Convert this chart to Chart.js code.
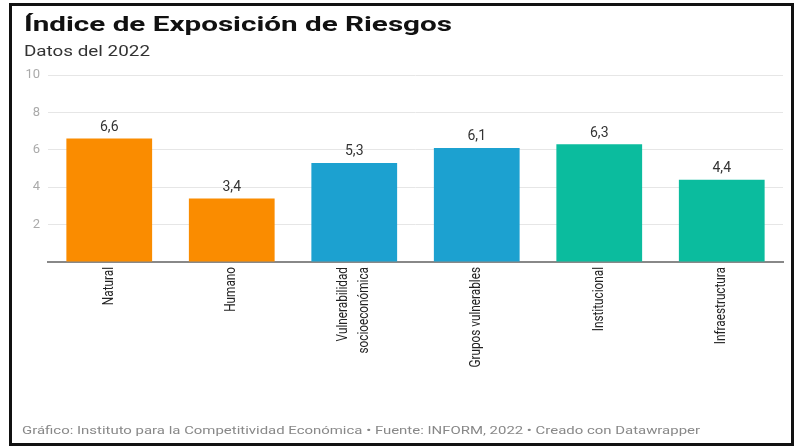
<!DOCTYPE html>
<html lang="es">
<head>
<meta charset="utf-8">
<script src="https://cdn.jsdelivr.net/npm/chart.js@4"></script>
<style>
  html, body { margin: 0; padding: 0; background: #fff; }
  body { width: 795px; height: 447px; position: relative; overflow: hidden; font-family: Roboto, sans-serif; }
  .frame { position: absolute; left: 9px; top: 3px; width: 779px; height: 437px; border: 3px solid #111; z-index: 2; pointer-events: none; }
  #chart { position: absolute; left: 0; top: 0; }
  .txt { position: absolute; white-space: nowrap; transform-origin: 0 0; z-index: 3; line-height: 1; }
  .title { left: 24px; top: 14px; font-size: 21px; font-weight: 700; color: #111; }
  .subtitle { left: 24px; top: 44px; font-size: 14px; color: #333; }
  .footer { left: 22px; top: 425px; font-size: 11.5px; color: #888; }
</style>
</head>
<body>
<div class="frame"></div>
<div class="txt title" data-w="428">Índice de Exposición de Riesgos</div>
<div class="txt subtitle" data-w="126">Datos del 2022</div>
<div class="txt footer" data-w="678">Gráfico: Instituto para la Competitividad Económica • Fuente: INFORM, 2022 • Creado con Datawrapper</div>
<canvas id="chart" width="795" height="447"></canvas>
<script>
// Datos
const categorias = ['Natural', 'Humano', ['Vulnerabilidad', 'socioeconómica'], 'Grupos vulnerables', 'Institucional', 'Infraestructura'];
const valores = [6.6, 3.4, 5.3, 6.1, 6.3, 4.4];
const colores = ['#fa8c00', '#fa8c00', '#1ca1d0', '#1ca1d0', '#0bbc9e', '#0bbc9e'];
const ticksY = [0, 2, 4, 6, 8, 10];

// La imagen original está estirada en horizontal: se ajusta el ancho de los textos
document.querySelectorAll('.txt').forEach(el => {
    const w = el.getBoundingClientRect().width;
    el.style.transform = 'scaleX(' + (Number(el.dataset.w) / w) + ')';
});

// Etiquetas de valor encima de cada barra (coma decimal)
const valueLabels = {
    id: 'valueLabels',
    afterDatasetsDraw(chart) {
        const ctx = chart.ctx;
        const meta = chart.getDatasetMeta(0);
        ctx.save();
        ctx.font = '14px Roboto, sans-serif';
        ctx.fillStyle = '#333';
        ctx.textAlign = 'center';
        ctx.textBaseline = 'bottom';
        meta.data.forEach((bar, i) => {
            ctx.fillText(valores[i].toFixed(1).replace('.', ','), bar.x, bar.y - 4);
        });
        ctx.restore();
    },
};

// Etiquetas del eje X en vertical, con letra estrecha
const xLabels = {
    id: 'xLabels',
    afterDraw(chart) {
        const ctx = chart.ctx;
        const xs = chart.scales.x;
        const base = chart.chartArea.bottom;
        ctx.save();
        ctx.font = '14px Roboto, sans-serif';
        ctx.fillStyle = '#222';
        categorias.forEach((lab, i) => {
            const lines = Array.isArray(lab) ? lab : [lab];
            ctx.save();
            ctx.translate(xs.getPixelForValue(i), base + 5);
            ctx.rotate(-Math.PI / 2);
            ctx.scale(0.84, 1);
            ctx.textAlign = 'right';
            ctx.textBaseline = 'middle';
            lines.forEach((ln, j) => {
                ctx.fillText(ln, 0, (j - (lines.length - 1) / 2) * 21);
            });
            ctx.restore();
        });
        ctx.restore();
    },
};

new Chart(document.getElementById('chart'), {
    type: 'bar',
    data: {
        labels: categorias,
        datasets: [{
            data: valores,
            backgroundColor: colores,
            borderWidth: 0,
            barPercentage: 0.7,
            categoryPercentage: 1,
        }],
    },
    options: {
        responsive: false,
        animation: false,
        layout: { padding: { top: 75, left: 10, right: 12, bottom: 65 } },
        plugins: { legend: { display: false }, tooltip: { enabled: false } },
        scales: {
            x: {
                grid: { display: false },
                border: { color: '#888', width: 2 },
                ticks: { display: false },
                afterFit(scale) { scale.height = 120; },
            },
            y: {
                min: 0,
                max: 10,
                afterBuildTicks(scale) { scale.ticks = ticksY.map(v => ({ value: v })); },
                grid: { color: '#e6e6e6', drawTicks: false },
                border: { display: false },
                ticks: {
                    color: '#aaa',
                    font: { family: 'Roboto, sans-serif', size: 13 },
                    padding: 8,
                    callback: v => (v === 0 ? '' : v),
                },
                afterFit(scale) { scale.width = 38; },
            },
        },
    },
    plugins: [valueLabels, xLabels],
});
</script>
</body>
</html>
